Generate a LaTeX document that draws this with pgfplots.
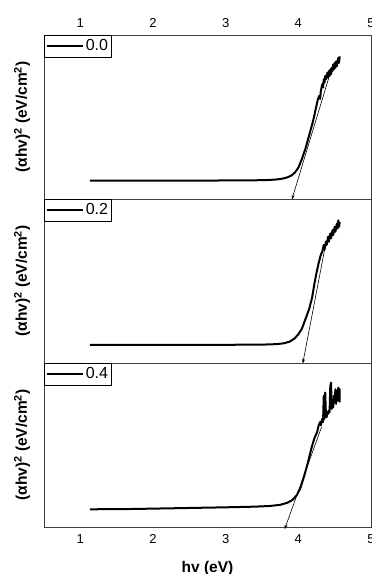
\documentclass[border=0pt]{standalone}
\usepackage{fontspec}
\setmainfont{Liberation Sans}
\usepackage{pgfplots}
\pgfplotsset{compat=1.18}
\usetikzlibrary{arrows.meta}
\pgfplotstableread{
x y
1.13 0.112
1.5 0.112
2.0 0.112
2.5 0.112
3.0 0.113
3.4 0.114
3.6 0.116
3.7 0.119
3.78 0.124
3.85 0.132
3.9 0.142
3.95 0.16
4.0 0.19
4.05 0.245
4.1 0.31
4.15 0.39
4.2 0.47
4.24 0.55
4.27 0.61
4.29 0.63
4.30 0.61
4.31 0.66
4.33 0.70
4.34 0.68
4.35 0.73
4.36 0.71
4.37 0.75
4.38 0.73
4.40 0.77
4.41 0.74
4.42 0.78
4.43 0.75
4.44 0.79
4.45 0.76
4.46 0.80
4.47 0.78
4.48 0.82
4.49 0.79
4.50 0.83
4.51 0.80
4.52 0.84
4.53 0.81
4.55 0.86
4.56 0.83
4.57 0.87
}\dataA
\pgfplotstableread{
x y
1.13 0.11
1.5 0.11
2.0 0.11
2.5 0.11
3.0 0.111
3.5 0.112
3.7 0.115
3.8 0.12
3.88 0.13
3.95 0.15
4.0 0.175
4.05 0.21
4.1 0.27
4.15 0.33
4.19 0.40
4.22 0.48
4.25 0.55
4.28 0.61
4.31 0.66
4.33 0.68
4.35 0.72
4.36 0.69
4.38 0.74
4.39 0.72
4.41 0.77
4.42 0.74
4.44 0.79
4.45 0.76
4.47 0.81
4.48 0.78
4.50 0.83
4.51 0.80
4.53 0.85
4.54 0.82
4.55 0.87
4.56 0.83
4.57 0.86
}\dataB
\pgfplotstableread{
x y
1.13 0.108
1.6 0.109
2.0 0.112
2.5 0.116
3.0 0.12
3.4 0.124
3.6 0.128
3.75 0.135
3.85 0.148
3.92 0.165
3.98 0.195
4.03 0.24
4.08 0.31
4.13 0.39
4.18 0.48
4.22 0.54
4.26 0.58
4.28 0.62
4.30 0.64
4.31 0.62
4.33 0.66
4.34 0.64
4.35 0.80
4.36 0.66
4.37 0.82
4.38 0.68
4.39 0.67
4.40 0.70
4.41 0.69
4.42 0.71
4.43 0.70
4.44 0.86
4.45 0.88
4.46 0.72
4.47 0.74
4.48 0.73
4.49 0.80
4.50 0.76
4.51 0.84
4.52 0.75
4.53 0.83
4.54 0.77
4.55 0.85
4.56 0.78
4.57 0.84
4.57 0.76
}\dataC
\pgfplotsset{
  panel/.style={
    scale only axis,
    width=327pt, height=164pt,
    xmin=0.5, xmax=5, ymin=0, ymax=1,
    xtick={1,2,3,4,5},
    ytick=\empty,
    major tick length=0pt,
    axis line style={line width=0.8pt, black!75},
    clip=false,
    xticklabel shift=4pt,
    tick label style={font=\fontsize{13}{14}\selectfont},
    /pgf/number format/assume math mode=true,
    ylabel={\textbf{(αhv)\textsuperscript{2} (eV/cm\textsuperscript{2})}},
    every axis y label/.style={at={(axis description cs:-0.067,0.5)}, rotate=90, anchor=center, font=\fontsize{15.5}{17}\selectfont},
    legend style={at={(0,1)}, anchor=north west, draw=black, line width=0.6pt, font=\fontsize{16}{17}\selectfont, inner xsep=1.5pt, inner ysep=2.5pt, row sep=0pt},
    legend cell align=left,
    legend image code/.code={\draw[#1, line width=2pt] (2pt,0pt) -- (38pt,0pt);},
  },
  curve/.style={black, line width=2pt, line join=round},
  tang/.style={black, line width=0.6pt, -{Stealth[length=5pt,width=3pt]}},
}
\begin{document}
\begin{tikzpicture}[x=1pt,y=1pt]
\begin{axis}[panel, at={(44pt,375pt)}, anchor=south west, xticklabel pos=top]
\addplot[curve] table {\dataA};
\addlegendentry{0.0}
\addplot[tang, forget plot] coordinates {(4.42,0.74) (3.91,-0.005)};
\end{axis}
\begin{axis}[panel, at={(44pt,211pt)}, anchor=south west, xticklabels={}]
\addplot[curve] table {\dataB};
\addlegendentry{0.2}
\addplot[tang, forget plot] coordinates {(4.37,0.71) (4.06,-0.005)};
\end{axis}
\begin{axis}[panel, at={(44pt,47pt)}, anchor=south west, xlabel={\textbf{hv (eV)}}, every axis x label/.style={at={(axis description cs:0.5,0)}, anchor=center, yshift=-41pt, font=\fontsize{15.5}{17}\selectfont}]
\addplot[curve] table {\dataC};
\addlegendentry{0.4}
\addplot[tang, forget plot] coordinates {(4.32,0.61) (3.81,-0.015)};
\end{axis}
\pgfresetboundingbox
\path (0pt,0pt) rectangle (372pt,574pt);
\end{tikzpicture}
\end{document}
